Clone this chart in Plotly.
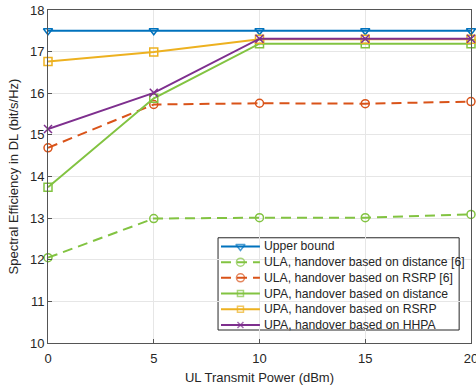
import plotly.graph_objects as go

x_power = [0, 5, 10, 15, 20]
upper_bound = [17.5, 17.5, 17.5, 17.5, 17.5]
ula_distance = [12.05, 12.99, 13.01, 13.01, 13.09]
ula_rsrp = [14.69, 15.73, 15.76, 15.75, 15.8]
upa_distance = [13.74, 15.88, 17.19, 17.19, 17.19]
upa_rsrp = [16.76, 16.99, 17.3, 17.3, 17.3]
upa_hhpa = [15.14, 16.01, 17.31, 17.31, 17.31]

names = ["Upper bound", "ULA, handover based on distance [6]", "ULA, handover based on RSRP [6]",
         "UPA, handover based on distance", "UPA, handover based on RSRP", "UPA, handover based on HHPA"]

blue = "#0072BD"
red = "#D95319"
yellow = "#EDB120"
purple = "#7E2F8E"
green = "#82C341"
DASH = "10px,6px"

series = [
    (upper_bound, names[0], blue, "solid", "triangle-down-open"),
    (ula_distance, names[1], green, DASH, "circle-open"),
    (ula_rsrp, names[2], red, DASH, "circle-open"),
    (upa_distance, names[3], green, "solid", "square-open"),
    (upa_rsrp, names[4], yellow, "solid", "square-open"),
    (upa_hhpa, names[5], purple, "solid", "x-thin-open"),
]

fig = go.Figure()
for ys, nm, col, dash, sym in series:
    fig.add_trace(go.Scatter(
        x=x_power, y=ys, name=nm, mode="lines+markers",
        line=dict(color=col, width=2, dash=dash),
        marker=dict(symbol=sym, size=8, color=col, line=dict(color=col, width=1.5)),
        cliponaxis=False, showlegend=False,
    ))

# Custom legend (compact rows like the original), drawn on an overlay axis in plot-area fractions
box_l, box_r, box_t, box_b = 0.402, 0.972, 0.316, 0.039
row_top, row_step = 0.2900, 0.0472
ln_x0, ln_x1, txt_x = 0.409, 0.501, 0.505
fig.add_shape(type="rect", xref="paper", yref="paper", x0=box_l, x1=box_r, y0=box_b, y1=box_t,
              line=dict(color="#262626", width=1), fillcolor="white", layer="between")
for i, (ys, nm, col, dash, sym) in enumerate(series):
    yy = row_top - i * row_step
    msize = 8 if "circle" in sym or "triangle" in sym else 6
    fig.add_trace(go.Scatter(
        x=[ln_x0, (ln_x0 + ln_x1) / 2, ln_x1], y=[yy, yy, yy], xaxis="x2", yaxis="y2",
        mode="lines+markers", showlegend=False, hoverinfo="skip",
        line=dict(color=col, width=2, dash=dash),
        marker=dict(symbol=sym, size=[0, msize, 0], color=col, line=dict(color=col, width=1.5)),
        cliponaxis=False,
    ))
    fig.add_annotation(xref="paper", yref="paper", x=txt_x, y=yy, text=nm, showarrow=False,
                       xanchor="left", yanchor="middle", font=dict(size=12.2, color="#262626"))

axis_common = dict(
    showline=True, linecolor="#555555", linewidth=1, mirror=True,
    showgrid=True, gridcolor="#E6E6E6", gridwidth=1,
    ticks="inside", ticklen=4, tickcolor="#555555",
    tickfont=dict(size=13, color="#262626"), zeroline=False,
    automargin=False, ticklabeloverflow="allow",
)

fig.update_layout(
    width=476, height=388,
    margin=dict(l=48, r=5, t=10, b=45),
    paper_bgcolor="white", plot_bgcolor="white",
    font=dict(family="Liberation Sans, Arial, sans-serif", color="#262626"),
    showlegend=False,
    xaxis=dict(range=[0, 20], tickvals=[0, 5, 10, 15, 20], ticklabelstandoff=3,
               title=dict(text="UL Transmit Power (dBm)", font=dict(size=13), standoff=8),
               **axis_common),
    yaxis=dict(range=[10, 18], tickvals=list(range(10, 19)),
               title=dict(text="Spectral Efficiency in DL (bit/s/Hz)", font=dict(size=13), standoff=8),
               **axis_common),
    xaxis2=dict(overlaying="x", range=[0, 1], visible=False, fixedrange=True),
    yaxis2=dict(overlaying="y", range=[0, 1], visible=False, fixedrange=True),
)

fig.write_html("out.html", config={"displayModeBar": False},
               post_script="document.body.style.margin='0';document.body.style.overflow='hidden';")
